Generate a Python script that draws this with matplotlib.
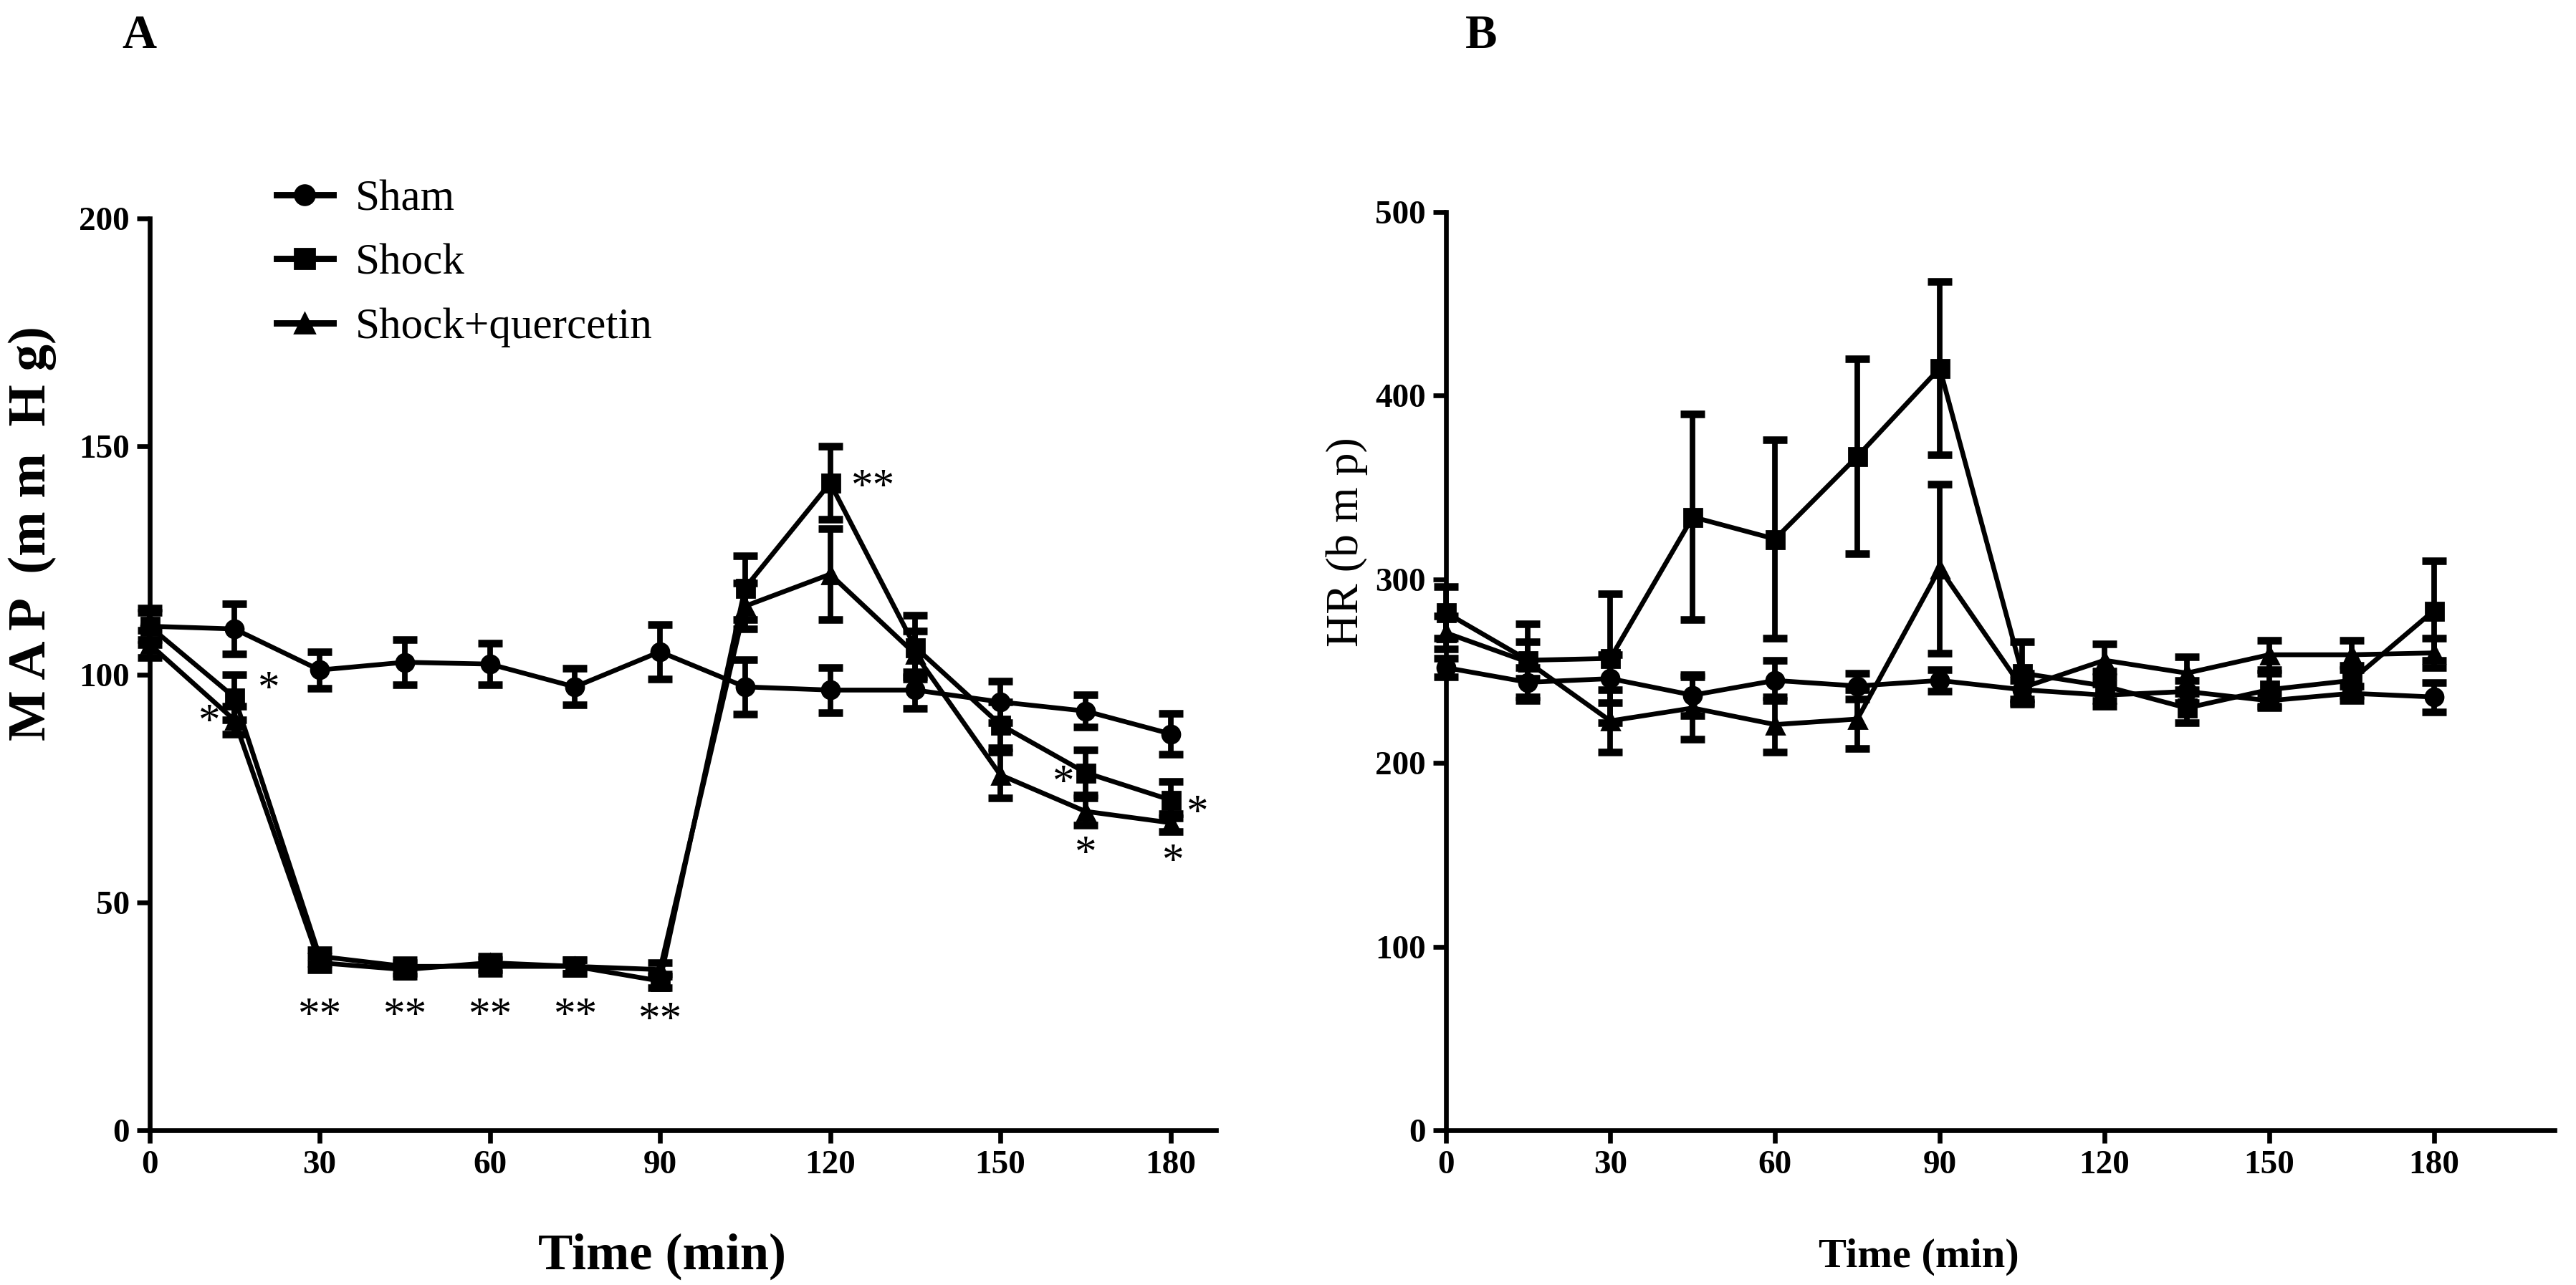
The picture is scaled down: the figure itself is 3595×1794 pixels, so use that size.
import matplotlib
matplotlib.use("Agg")
import matplotlib.pyplot as plt
from matplotlib.lines import Line2D

plt.rcParams['font.family'] = ['Liberation Serif', 'DejaVu Serif']
plt.rcParams['font.weight'] = 'bold'

time = [0, 15, 30, 45, 60, 75, 90, 105, 120, 135, 150, 165, 180]
labels = ["Sham", "Shock", "Shock+quercetin"]

# MAP (mm Hg)
map_sham = [110.6, 110, 101, 102.7, 102.3, 97.3, 105, 97.3, 96.6, 96.6, 94, 92, 87]
map_sham_err = [3, 5.5, 4, 5, 4.5, 4, 6, 6, 5, 4, 4.5, 3.5, 4.5]
map_shock = [110.6, 95, 38.2, 36, 36, 36, 32.8, 119, 142, 106, 89, 78.5, 72.5]
map_shock_err = [4, 5, 1.5, 1.5, 1.5, 1.5, 1.5, 7, 8, 7, 5, 5, 4]
map_querc = [106.7, 90, 36.8, 35.3, 36.8, 36, 35.3, 115, 122, 104.5, 78, 70, 67.5]
map_querc_err = [3, 3, 1.5, 1.5, 1.5, 1.5, 1.5, 5, 10, 5, 5, 3, 2]

# HR (bmp)
hr_sham = [252, 244, 246, 237, 245, 242, 245, 240, 237, 239, 234, 238, 236]
hr_sham_err = [5, 8, 13, 11, 11, 7, 6, 5, 6, 6, 4, 4, 8]
hr_shock = [282, 256, 257, 334, 322, 367, 415, 249, 242, 230, 240, 245, 283]
hr_shock_err = [14, 10, 35, 56, 54, 53, 47, 17, 8, 8, 9, 8, 27]
hr_querc = [271, 255, 223, 230, 221, 224, 306, 241, 256, 249, 259, 259, 260]
hr_querc_err = [9, 21, 17, 17, 15, 16, 46, 8, 9, 9, 8, 8, 8]

# significance marks on panel A: (x, y, text)
stars_a = [(10.4, 89.4, "*"), (20.9, 96.6, "*"),
           (30, 25, "**"), (45, 25, "**"), (60, 25, "**"), (75, 25, "**"), (90, 24, "**"),
           (127.5, 141, "**"), (161, 76, "*"), (165, 60.5, "*"),
           (184.6, 69.5, "*"), (180.3, 58.7, "*")]

markers = ["o", "s", "^"]

fig = plt.figure(figsize=(17.975, 8.97), dpi=200)
axA = fig.add_axes([0.058, 0.1202, 0.414, 0.7097])
axB = fig.add_axes([0.5612, 0.1202, 0.4305, 0.7148])


def draw(ax, series, errs):
    for y, e, m, lab in zip(series, errs, markers, labels):
        ax.errorbar(time, y, yerr=e, color="black", marker=m, markersize=9,
                    linewidth=2.4, elinewidth=2.8, capsize=6, capthick=3.8,
                    label=lab, clip_on=False)
    for s in ["top", "right"]:
        ax.spines[s].set_visible(False)
    for s in ["left", "bottom"]:
        ax.spines[s].set_linewidth(2.4)
    ax.tick_params(direction="out", length=6.5, width=2.4, labelsize=17)
    ax.set_xticks([0, 30, 60, 90, 120, 150, 180])
    for t in ax.get_xticklabels() + ax.get_yticklabels():
        t.set_fontweight("bold")


draw(axA, [map_sham, map_shock, map_querc], [map_sham_err, map_shock_err, map_querc_err])
axA.set_xlim(0, 188)
axA.set_ylim(0, 200)
axA.set_yticks([0, 50, 100, 150, 200])
for x, y, s in stars_a:
    axA.text(x, y, s, ha="center", va="center", fontsize=22, fontweight="normal")

draw(axB, [hr_sham, hr_shock, hr_querc], [hr_sham_err, hr_shock_err, hr_querc_err])
axB.set_xlim(0, 202)
axB.set_ylim(0, 500)
axB.set_yticks([0, 100, 200, 300, 400, 500])

handles = [Line2D([], [], color="black", marker=m, markersize=10, linewidth=3.2) for m in markers]
fig.legend(handles, labels, loc="upper left", bbox_to_anchor=(0.092, 0.891), frameon=False,
           handlelength=1.3, labelspacing=0.55, handletextpad=0.5,
           prop={"weight": "normal", "size": 22})

fig.text(0.0125, 0.585, "M A P  (m m  H g)", rotation=90, ha="center", va="center", fontsize=27)
fig.text(0.523, 0.578, "HR (b m p)", rotation=90, ha="center", va="center", fontsize=23,
         fontweight="normal")
fig.text(0.257, 0.022, "Time (min)", ha="center", va="center", fontsize=26)
fig.text(0.745, 0.022, "Time (min)", ha="center", va="center", fontsize=21)
fig.text(0.0542, 0.972, "A", ha="center", va="center", fontsize=24)
fig.text(0.575, 0.972, "B", ha="center", va="center", fontsize=24)

fig.savefig("out.png", dpi=200)
